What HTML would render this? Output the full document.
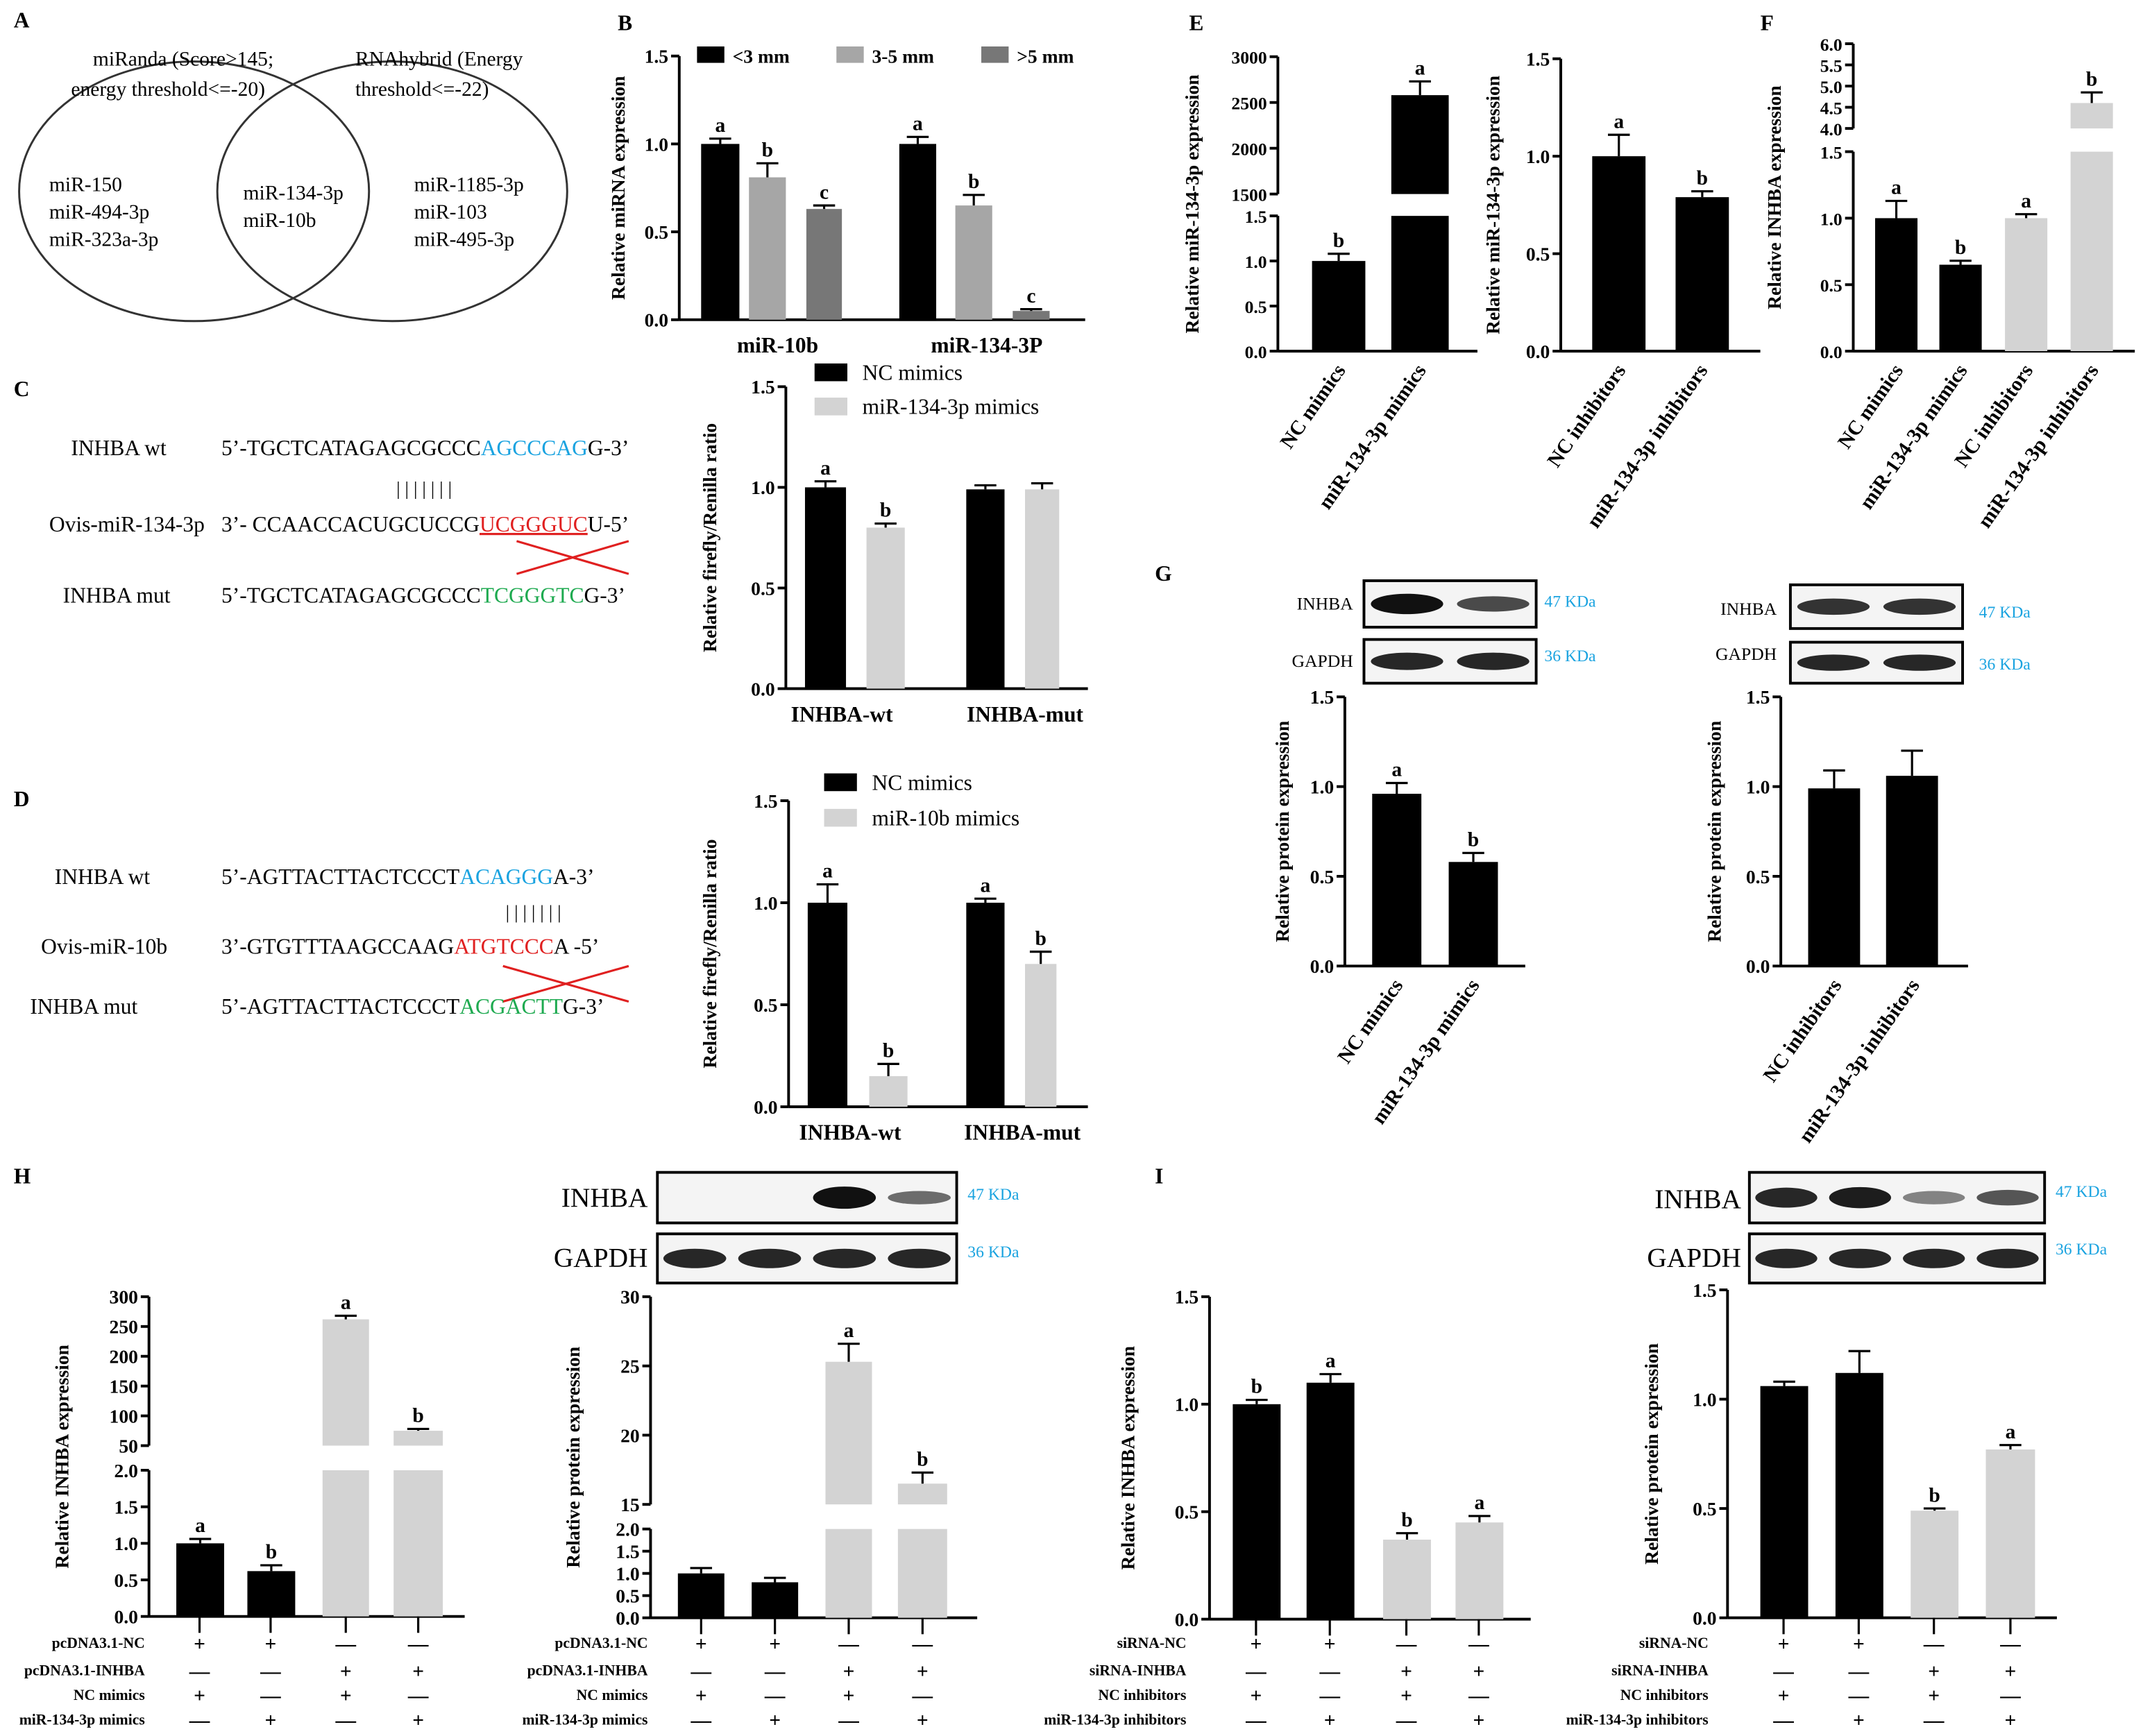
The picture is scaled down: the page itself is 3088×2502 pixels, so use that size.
<!DOCTYPE html>
<html><head><meta charset="utf-8"><style>
html,body{margin:0;padding:0;background:#fff}
svg{display:block}
text{font-family:"Liberation Serif",serif}
.b{font-weight:bold}
</style></head><body>
<svg id="fig" xmlns="http://www.w3.org/2000/svg" width="3088" height="2502" viewBox="0 0 1568 1270.5" preserveAspectRatio="none">
<g>
<text x="10" y="20" font-size="16" class="b">A</text>
<ellipse cx="142" cy="140" rx="128" ry="95" fill="none" stroke="#333" stroke-width="1.5"/>
<ellipse cx="287" cy="140" rx="128" ry="95" fill="none" stroke="#333" stroke-width="1.5"/>
<text x="68" y="48" font-size="15">miRanda (Score&gt;145;</text>
<text x="52" y="70" font-size="15">energy threshold&lt;=-20)</text>
<text x="260" y="48" font-size="15">RNAhybrid (Energy</text>
<text x="260" y="70" font-size="15">threshold&lt;=-22)</text>
<text x="36" y="140" font-size="15">miR-150</text>
<text x="36" y="160" font-size="15">miR-494-3p</text>
<text x="36" y="180" font-size="15">miR-323a-3p</text>
<text x="178" y="146" font-size="15">miR-134-3p</text>
<text x="178" y="166" font-size="15">miR-10b</text>
<text x="303" y="140" font-size="15">miR-1185-3p</text>
<text x="303" y="160" font-size="15">miR-103</text>
<text x="303" y="180" font-size="15">miR-495-3p</text>
</g>
<g font-size="16" font-weight="bold">
<text x="452" y="22">B</text><text x="10" y="290">C</text><text x="10" y="590">D</text>
<text x="870" y="22">E</text><text x="1288" y="22">F</text><text x="845" y="425">G</text>
<text x="10" y="866">H</text><text x="845" y="866">I</text>
</g>
<g font-size="16">
<text x="52" y="333">INHBA wt</text>
<text x="162" y="333">5’-TGCTCATAGAGCGCCC<tspan fill="#1aa3e0">AGCCCAG</tspan>G-3’</text>
<text x="290" y="362" font-size="14">|  |  |  |  |  |  |</text>
<text x="36" y="389">Ovis-miR-134-3p</text>
<text x="162" y="389">3’- CCAACCACUGCUCCG<tspan fill="#e02020" text-decoration="underline">UCGGGUC</tspan>U-5’</text>
<line x1="378" y1="396" x2="460" y2="420" stroke="#e02020" stroke-width="1.6"/>
<line x1="378" y1="420" x2="460" y2="396" stroke="#e02020" stroke-width="1.6"/>
<text x="46" y="441">INHBA mut</text>
<text x="162" y="441">5’-TGCTCATAGAGCGCCC<tspan fill="#1eaa50">TCGGGTC</tspan>G-3’</text>
</g>
<g font-size="16">
<text x="40" y="647">INHBA wt</text>
<text x="162" y="647">5’-AGTTACTTACTCCCT<tspan fill="#1aa3e0">ACAGGG</tspan>A-3’</text>
<text x="370" y="672" font-size="14">|  |  |  |  |  |  |</text>
<text x="30" y="698">Ovis-miR-10b</text>
<text x="162" y="698">3’-GTGTTTAAGCCAAG<tspan fill="#e02020">ATGTCCC</tspan>A -5’</text>
<line x1="368" y1="707" x2="460" y2="733" stroke="#e02020" stroke-width="1.6"/>
<line x1="368" y1="733" x2="460" y2="707" stroke="#e02020" stroke-width="1.6"/>
<text x="22" y="742">INHBA mut</text>
<text x="162" y="742">5’-AGTTACTTACTCCCT<tspan fill="#1eaa50">ACGACTT</tspan>G-3’</text>
</g>
<g id="charts"></g>
</svg>
<script>
// ---- data arrays ----
const bCats=["miR-10b","miR-134-3P"];
const bSmall=[1.0,1.0], bMid=[0.81,0.65], bLarge=[0.63,0.05];
const bErrSmall=[0.03,0.04], bErrMid=[0.08,0.06], bErrLarge=[0.02,0.01];
const cCats=["INHBA-wt","INHBA-mut"];
const cNC=[1.0,0.99], cMim=[0.80,0.99], cErrNC=[0.03,0.02], cErrMim=[0.02,0.03];
const dNC=[1.0,1.0], dMim=[0.15,0.70], dErrNC=[0.09,0.02], dErrMim=[0.06,0.06];
const eLeftVals=[1.0,2580], eLeftErr=[0.08,150];
const eRightVals=[1.0,0.79], eRightErr=[0.11,0.03];
const fVals=[1.0,0.65,1.0,4.6], fErr=[0.13,0.03,0.03,0.25];
const gLeftVals=[0.96,0.58], gLeftErr=[0.06,0.05];
const gRightVals=[0.99,1.06], gRightErr=[0.1,0.14];
const hLeftVals=[1.0,0.62,262,75], hLeftErr=[0.06,0.08,6,3];
const hRightVals=[1.0,0.8,25.3,16.5], hRightErr=[0.12,0.1,1.3,0.8];
const iLeftVals=[1.0,1.1,0.37,0.45], iLeftErr=[0.02,0.04,0.03,0.03];
const iRightVals=[1.06,1.12,0.49,0.77], iRightErr=[0.02,0.1,0.01,0.02];

const NS="http://www.w3.org/2000/svg";
const root=document.getElementById('charts');
function mk(tag,at,parent){const e=document.createElementNS(NS,tag);for(const k in at)e.setAttribute(k,at[k]);(parent||root).appendChild(e);return e;}
function txt(s,at,parent){const e=mk('text',at,parent);e.textContent=s;return e;}
function yOf(segs,v){for(const s of segs){if(v<=s.hi||s===segs[segs.length-1])return s.y0+(Math.min(v,s.hi)-s.lo)*(s.y1-s.y0)/(s.hi-s.lo);}}
function chart(o){
  const g=mk('g',{});
  
  
  const segs=o.segs;
  segs.forEach(s=>{
    const ax=mk('line',{x1:o.x,y1:s.y0,x2:o.x,y2:s.y1,stroke:'#000','stroke-width':2},g);
    
    s.ticks.forEach(t=>{const y=yOf([s],t);
      mk('line',{x1:o.x-6,y1:y,x2:o.x,y2:y,stroke:'#000','stroke-width':2},g);
      txt(o.fmt?o.fmt(t):t.toFixed(1),{x:o.x-8,y:y+5,'font-size':o.fs||14,'text-anchor':'end','font-weight':'bold'},g);
    });
  });
  const xa=mk('line',{x1:o.x,y1:segs[0].y0,x2:o.xEnd,y2:segs[0].y0,stroke:'#000','stroke-width':2},g);
  
  const ty=(segs[0].y0+segs[segs.length-1].y1)/2;
  const tt=txt(o.title,{x:o.tx,y:ty,'font-size':14,'font-weight':'bold','text-anchor':'middle',transform:`rotate(-90 ${o.tx} ${ty})`},g);
  
  o.bars.forEach(b=>{
    segs.forEach(s=>{
      if(b.v<=s.lo)return;
      const top=yOf([s],Math.min(b.v,s.hi)), bot=s.y0;
      const r=mk('rect',{x:b.x,y:top,width:b.w,height:bot-top,fill:b.c},g);
      
    });
    const yt=yOf(segs,b.v), ye=yOf(segs,b.v+b.e);
    if(b.e>0){const cx=b.x+b.w/2;
      mk('line',{x1:cx,y1:yt,x2:cx,y2:ye,stroke:'#000','stroke-width':1.6},g);
      mk('line',{x1:cx-8,y1:ye,x2:cx+8,y2:ye,stroke:'#000','stroke-width':1.6},g);}
    if(b.l)txt(b.l,{x:b.x+b.w/2,y:ye-5,'font-size':15,'font-weight':'bold','text-anchor':'middle'},g);
  });
  o.bars.forEach(b=>{if(o.xt)mk('line',{x1:b.x+b.w/2,y1:segs[0].y0,x2:b.x+b.w/2,y2:segs[0].y0+7,stroke:'#000','stroke-width':1.6},g);});
  (o.cats||[]).forEach(c=>{txt(c.t,{x:c.x,y:segs[0].y0+24,'font-size':16,'font-weight':'bold','text-anchor':'middle'},g);});
  (o.rot||[]).forEach(c=>{const y=segs[0].y0+14;
    txt(c.t,{x:c.x,y:y,'font-size':15,'font-weight':'bold','text-anchor':'end',transform:`rotate(-55 ${c.x} ${y})`},g);});
  return g;
}
const K='#000',G1='#a6a6a6',G2='#777',L='#d3d3d3';
const s15=(y0,y1)=>[{lo:0,hi:1.5,y0:y0,y1:y1,ticks:[0,0.5,1.0,1.5]}];
// B
chart({name:'panel-b-chart',x:497,xEnd:794,tx:457,title:'Relative miRNA expression',segs:s15(234,41),
 bars:[{x:513,w:28,v:bSmall[0],e:bErrSmall[0],c:K,l:'a'},{x:548,w:27,v:bMid[0],e:bErrMid[0],c:G1,l:'b'},{x:590,w:26,v:bLarge[0],e:bErrLarge[0],c:G2,l:'c'},
 {x:658,w:27,v:bSmall[1],e:bErrSmall[1],c:K,l:'a'},{x:699,w:27,v:bMid[1],e:bErrMid[1],c:G1,l:'b'},{x:741,w:27,v:bLarge[1],e:bErrLarge[1],c:G2,l:'c'}],
 cats:[{t:bCats[0],x:569},{t:bCats[1],x:722}]});
[[510,K,'<3 mm'],[612,G1,'3-5 mm'],[718,G2,'>5 mm']].forEach(a=>{const r=mk('rect',{x:a[0],y:34,width:20,height:12,fill:a[1]});
 txt(a[2],{x:a[0]+26,y:46,'font-size':14,'font-weight':'bold'});});
// C
chart({name:'panel-c-chart',x:575,xEnd:796,tx:524,title:'Relative firefly/Renilla ratio',segs:s15(504,283),
 bars:[{x:589,w:30,v:cNC[0],e:cErrNC[0],c:K,l:'a'},{x:634,w:28,v:cMim[0],e:cErrMim[0],c:L,l:'b'},{x:707,w:28,v:cNC[1],e:cErrNC[1],c:K},{x:750,w:25,v:cMim[1],e:cErrMim[1],c:L}],
 cats:[{t:cCats[0],x:616},{t:cCats[1],x:750}]});
[[596,266,K,'NC mimics'],[596,291,L,'miR-134-3p mimics'],[603,566,K,'NC mimics'],[603,592,L,'miR-10b mimics']].forEach(a=>{
 const r=mk('rect',{x:a[0],y:a[1],width:24,height:13,fill:a[2]});
 txt(a[3],{x:a[0]+35,y:a[1]+12,'font-size':16});});
// D
chart({name:'panel-d-chart',x:577,xEnd:796,tx:524,title:'Relative firefly/Renilla ratio',segs:s15(810,586),
 bars:[{x:591,w:29,v:dNC[0],e:dErrNC[0],c:K,l:'a'},{x:636,w:28,v:dMim[0],e:dErrMim[0],c:L,l:'b'},{x:707,w:28,v:dNC[1],e:dErrNC[1],c:K,l:'a'},{x:750,w:23,v:dMim[1],e:dErrMim[1],c:L,l:'b'}],
 cats:[{t:cCats[0],x:622},{t:cCats[1],x:748}]});
// E left
chart({name:'panel-e-left-chart',x:935,xEnd:1081,tx:877,title:'Relative miR-134-3p expression',fmt:t=>t<10?t.toFixed(1):String(t),fs:13,
 segs:[{lo:0,hi:1.5,y0:257,y1:158,ticks:[0,0.5,1.0,1.5]},{lo:1500,hi:3000,y0:142,y1:41.5,ticks:[1500,2000,2500,3000]}],
 bars:[{x:960,w:39,v:eLeftVals[0],e:eLeftErr[0],c:K,l:'b'},{x:1018,w:42,v:eLeftVals[1],e:eLeftErr[1],c:K,l:'a'}],
 rot:[{t:'NC mimics',x:985},{t:'miR-134-3p mimics',x:1044}]});
// E right
chart({name:'panel-e-right-chart',x:1142,xEnd:1288,tx:1097,title:'Relative miR-134-3p expression',segs:s15(257,43),
 bars:[{x:1165,w:39,v:eRightVals[0],e:eRightErr[0],c:K,l:'a'},{x:1226,w:39,v:eRightVals[1],e:eRightErr[1],c:K,l:'b'}],
 rot:[{t:'NC inhibitors',x:1190},{t:'miR-134-3p inhibitors',x:1250}]});
// F
chart({name:'panel-f-chart',x:1356,xEnd:1562,tx:1303,title:'Relative INHBA expression',fs:13,
 segs:[{lo:0,hi:1.5,y0:257,y1:111,ticks:[0,0.5,1.0,1.5]},{lo:4.0,hi:6.0,y0:94,y1:32,ticks:[4.0,4.5,5.0,5.5,6.0]}],
 bars:[{x:1372,w:31,v:fVals[0],e:fErr[0],c:K,l:'a'},{x:1419,w:31,v:fVals[1],e:fErr[1],c:K,l:'b'},{x:1467,w:31,v:fVals[2],e:fErr[2],c:L,l:'a'},{x:1515,w:31,v:fVals[3],e:fErr[3],c:L,l:'b'}],
 rot:[{t:'NC mimics',x:1393},{t:'miR-134-3p mimics',x:1440},{t:'NC inhibitors',x:1488},{t:'miR-134-3p inhibitors',x:1536}]});
// G
chart({name:'panel-g-left-chart',x:984,xEnd:1116,tx:943,title:'Relative protein expression',segs:s15(707,510),
 bars:[{x:1004,w:36,v:gLeftVals[0],e:gLeftErr[0],c:K,l:'a'},{x:1060,w:36,v:gLeftVals[1],e:gLeftErr[1],c:K,l:'b'}],
 rot:[{t:'NC mimics',x:1027},{t:'miR-134-3p mimics',x:1083}]});
chart({name:'panel-g-right-chart',x:1303,xEnd:1440,tx:1259,title:'Relative protein expression',segs:s15(707,510),
 bars:[{x:1323,w:38,v:gRightVals[0],e:gRightErr[0],c:K},{x:1380,w:38,v:gRightVals[1],e:gRightErr[1],c:K}],
 rot:[{t:'NC inhibitors',x:1348},{t:'miR-134-3p inhibitors',x:1405}]});
// H left
chart({name:'panel-h-left-chart',x:109,xEnd:340,tx:50,title:'Relative INHBA expression',fmt:t=>t<=2?t.toFixed(1):String(t),
 segs:[{lo:0,hi:2.0,y0:1183,y1:1076,ticks:[0,0.5,1.0,1.5,2.0]},{lo:50,hi:300,y0:1058,y1:949,ticks:[50,100,150,200,250,300]}],
 bars:[{x:129,w:35,v:hLeftVals[0],e:hLeftErr[0],c:K,l:'a'},{x:181,w:35,v:hLeftVals[1],e:hLeftErr[1],c:K,l:'b'},{x:236,w:34,v:hLeftVals[2],e:hLeftErr[2],c:L,l:'a'},{x:288,w:36,v:hLeftVals[3],e:hLeftErr[3],c:L,l:'b'}]});
chart({name:'panel-h-right-chart',x:476,xEnd:715,tx:424,title:'Relative protein expression',fmt:t=>t<=2?t.toFixed(1):String(t),
 segs:[{lo:0,hi:2.0,y0:1184,y1:1119,ticks:[0,0.5,1.0,1.5,2.0]},{lo:15,hi:30,y0:1101,y1:949,ticks:[15,20,25,30]}],
 bars:[{x:496,w:34,v:hRightVals[0],e:hRightErr[0],c:K},{x:550,w:34,v:hRightVals[1],e:hRightErr[1],c:K},{x:604,w:34,v:hRightVals[2],e:hRightErr[2],c:L,l:'a'},{x:657,w:36,v:hRightVals[3],e:hRightErr[3],c:L,l:'b'}]});
// I
chart({name:'panel-i-left-chart',x:885,xEnd:1120,tx:830,title:'Relative INHBA expression',segs:s15(1185,949),
 bars:[{x:902,w:35,v:iLeftVals[0],e:iLeftErr[0],c:K,l:'b'},{x:956,w:35,v:iLeftVals[1],e:iLeftErr[1],c:K,l:'a'},{x:1012,w:35,v:iLeftVals[2],e:iLeftErr[2],c:L,l:'b'},{x:1065,w:35,v:iLeftVals[3],e:iLeftErr[3],c:L,l:'a'}]});
chart({name:'panel-i-right-chart',x:1264,xEnd:1505,tx:1213,title:'Relative protein expression',segs:s15(1184,944),
 bars:[{x:1288,w:35,v:iRightVals[0],e:iRightErr[0],c:K},{x:1343,w:35,v:iRightVals[1],e:iRightErr[1],c:K},{x:1398,w:35,v:iRightVals[2],e:iRightErr[2],c:L,l:'b'},{x:1453,w:36,v:iRightVals[3],e:iRightErr[3],c:L,l:'a'}]});
// treatment tables
function table(name,labelX,y0,xs,labels,signs){
  const g=mk('g',{});
  
  
  const ys=[1206,1226,1244,1262];
  labels.forEach((l,i)=>txt(l,{x:labelX,y:ys[i],'font-size':11,'font-weight':'bold','text-anchor':'end'},g));
  xs.forEach((x,j)=>{mk('line',{x1:x,y1:y0,x2:x,y2:y0+12,stroke:'#000','stroke-width':1.6},g);
    signs[j].forEach((s,i)=>{txt(s,{x:x,y:ys[i]+2,'font-size':15,'text-anchor':'middle','font-weight':'bold'},g);});});
}
const sg=[['+','—','+','—'],['+','—','—','+'],['—','+','+','—'],['—','+','—','+']];
table('panel-h-left-table',106,1183,[146,198,253,306],['pcDNA3.1-NC','pcDNA3.1-INHBA','NC mimics','miR-134-3p mimics'],sg);
table('panel-h-right-table',474,1184,[513,567,621,675],['pcDNA3.1-NC','pcDNA3.1-INHBA','NC mimics','miR-134-3p mimics'],sg);
table('panel-i-left-table',868,1185,[919,973,1029,1082],['siRNA-NC','siRNA-INHBA','NC inhibitors','miR-134-3p inhibitors'],sg);
table('panel-i-right-table',1250,1184,[1305,1360,1415,1471],['siRNA-NC','siRNA-INHBA','NC inhibitors','miR-134-3p inhibitors'],sg);
// blots
function blot(name,x,y,w,h,bands){
  const g=mk('g',{});
  
  
  mk('rect',{x:x,y:y,width:w,height:h,fill:'#f4f4f4',stroke:'#000','stroke-width':2},g);
  const n=bands.length, bw=w/n;
  bands.forEach((b,i)=>{if(b>0)mk('ellipse',{cx:x+bw*(i+0.5),cy:y+h/2,rx:bw*0.42,ry:h*0.22*Math.max(0.6,b),fill:'#111','fill-opacity':b},g);});
}
function blotLabel(t,x,y,fs){txt(t,{x:x,y:y,'font-size':fs,'text-anchor':'end'});}
function kda(t,x,y){txt(t,{x:x,y:y,'font-size':12,fill:'#1aa3e0'});}
blot('g-left-inhba-blot',998,425,126,34,[1,0.75]);blot('g-left-gapdh-blot',998,468,126,32,[0.9,0.9]);
blotLabel('INHBA',990,446,13);blotLabel('GAPDH',990,488,13);kda('47 KDa',1130,444);kda('36 KDa',1130,484);
blot('g-right-inhba-blot',1310,428,126,32,[0.85,0.85]);blot('g-right-gapdh-blot',1310,470,126,30,[0.9,0.9]);
blotLabel('INHBA',1300,450,13);blotLabel('GAPDH',1300,483,13);kda('47 KDa',1448,452);kda('36 KDa',1448,490);
blot('h-inhba-blot',481,858,219,37,[0,0,1,0.6]);blot('h-gapdh-blot',481,903,219,36,[0.9,0.9,0.9,0.9]);
blotLabel('INHBA',474,883,20);blotLabel('GAPDH',474,927,20);kda('47 KDa',708,878);kda('36 KDa',708,920);
blot('i-inhba-blot',1280,858,216,37,[0.9,0.95,0.5,0.7]);blot('i-gapdh-blot',1280,903,216,36,[0.9,0.9,0.9,0.9]);
blotLabel('INHBA',1274,884,20);blotLabel('GAPDH',1274,927,20);kda('47 KDa',1504,876);kda('36 KDa',1504,918);
</script>
</body></html>
